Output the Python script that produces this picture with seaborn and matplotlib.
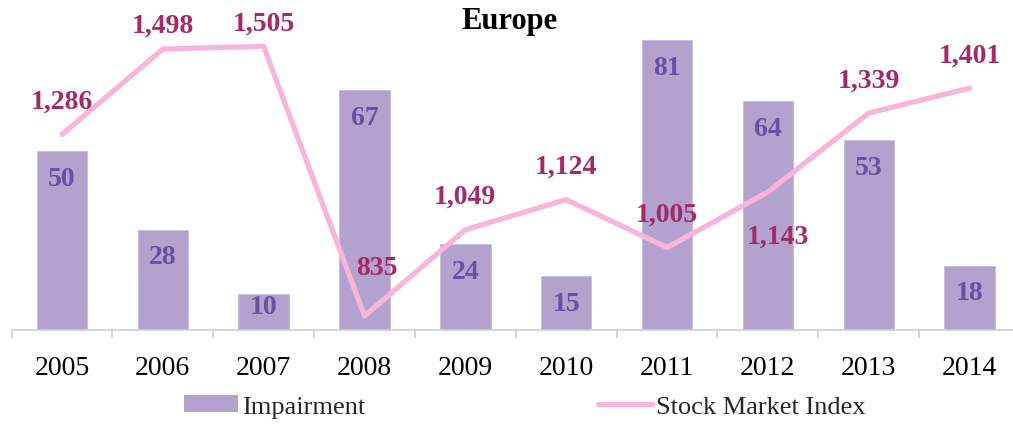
import matplotlib
matplotlib.use("Agg")
import matplotlib.pyplot as plt
import numpy as np
import pandas as pd
import seaborn as sns
from matplotlib.lines import Line2D
from matplotlib.patches import Patch

years = ["2005", "2006", "2007", "2008", "2009", "2010", "2011", "2012", "2013", "2014"]
impairment = [50, 28, 10, 67, 24, 15, 81, 64, 53, 18]
stock_index = [1286, 1498, 1505, 835, 1049, 1124, 1005, 1143, 1339, 1401]

BAR = "#b3a2cd"
BAR_TXT = "#6a4fa3"
LINE = "#f9b4da"
LINE_TXT = "#a3296a"
FONT = "Liberation Serif"

# label offsets (points) for the index labels that don't sit straight above
line_offsets = {1: (0, 17), 2: (0, 17), 3: (9, 35), 7: (7, -32)}

sns.set_theme(style="white")
plt.rcParams["font.family"] = [FONT, "DejaVu Serif"]

df = pd.DataFrame({"year": years, "pos": np.arange(len(years)),
                   "impairment": impairment, "index": stock_index})

fig = plt.figure(figsize=(10.13, 4.27), dpi=100)
ax = fig.add_axes([0.0114, 0.2248, 0.9955, 0.754])
ax2 = ax.twinx()

sns.barplot(data=df, x="pos", y="impairment", color=BAR, saturation=1,
            width=0.5, edgecolor="#c7bbdc", linewidth=0.6, ax=ax, native_scale=True)
sns.lineplot(data=df, x="pos", y="index", color=LINE, lw=3.8, ax=ax2,
             solid_capstyle="round", solid_joinstyle="round")

ax.set_ylim(0, 90)
ax2.set_ylim(800, 1600)
ax.set_xlim(-0.5, len(years) - 0.5)

for i, v in enumerate(impairment):
    dy = -19.5 if v > 12 else -9
    ax.annotate(str(v), (i, v), xytext=(0, dy), textcoords="offset points",
                ha="center", va="center", fontsize=20, fontweight="bold",
                color=BAR_TXT)

for i, v in enumerate(stock_index):
    dx, dy = line_offsets.get(i, (0, 24))
    ax2.annotate(f"{v:,}", (i, v), xytext=(dx, dy), textcoords="offset points",
                 ha="center", va="center", fontsize=20, fontweight="bold",
                 color=LINE_TXT)

for a in (ax, ax2):
    for s in ("left", "right", "top"):
        a.spines[s].set_visible(False)
    a.set_yticks([])
    a.set_ylabel("")
ax.spines["bottom"].set_color("#d0d0d0")
ax.spines["bottom"].set_linewidth(1.2)
ax2.spines["bottom"].set_visible(False)

ax.set_xticks(np.arange(-0.5, len(years)), labels=[])
ax.set_xticks(np.arange(len(years)), labels=years, minor=True)
ax.tick_params(axis="x", which="major", direction="out", length=6,
               color="#d0d0d0", width=1.2, bottom=True)
ax.tick_params(axis="x", which="minor", length=0, pad=18, labelsize=20,
               labelcolor="black")
ax.set_xlabel("")

fig.text(0.503, 0.95, "Europe", ha="center", va="center", fontsize=22,
         fontweight="bold", color="black")

handles = [Patch(facecolor=BAR, edgecolor="none"),
           Line2D([], [], color=LINE, lw=3.8, solid_capstyle="round")]
fig.legend(handles, ["Impairment", "Stock Market Index"], loc="center",
           bbox_to_anchor=(0.518, 0.045), ncol=2, frameon=False, fontsize=19,
           handlelength=2.05, handleheight=0.6, handletextpad=0.15,
           columnspacing=8.8)

fig.savefig("out.png", dpi=100)
